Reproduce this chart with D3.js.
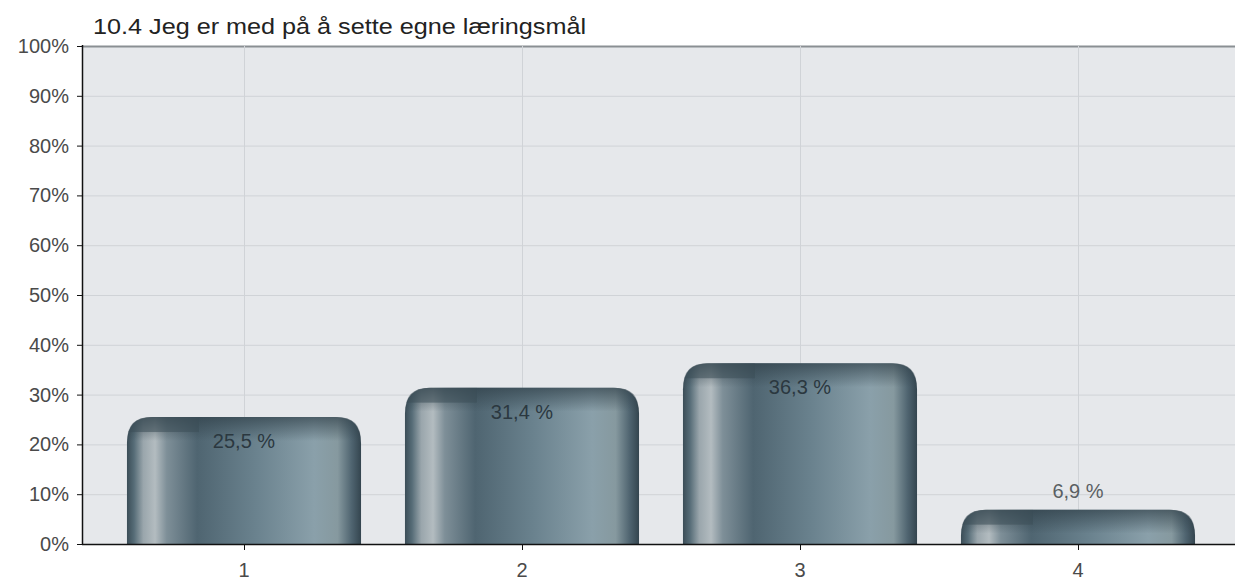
<!DOCTYPE html>
<html><head><meta charset="utf-8">
<script src="https://cdn.jsdelivr.net/npm/d3@7"></script>
<style>body{margin:0;background:#fff}svg{display:block;font-family:"Liberation Sans",Arial,sans-serif}</style>
</head><body><svg id="c" width="1235" height="581"></svg>
<script>
const title = "10.4 Jeg er med på å sette egne læringsmål";
const categories = ["1","2","3","4"];
const values = [25.5, 31.4, 36.3, 6.9];
const valueLabels = ["25,5 %","31,4 %","36,3 %","6,9 %"];
const yTicks = [0,10,20,30,40,50,60,70,80,90,100];

const svg = d3.select("#c");
const pLeft = 82, pRight = 1235, pTop = 46, pBottom = 544;
const y = d3.scaleLinear().domain([0,100]).range([pBottom, pTop]);
const x = d3.scaleBand().domain(categories).range([105, 1217]).paddingInner(0.158).paddingOuter(0.079);

const defs = svg.append("defs");
const g1 = defs.append("linearGradient").attr("id","barH").attr("x1","0").attr("x2","1").attr("y1","0").attr("y2","0");
[[0,"#3b4d57"],[0.03,"#566c77"],[0.07,"#9aa6ac"],[0.12,"#b3bcc0"],[0.17,"#7e8f98"],[0.3,"#4f6571"],[0.55,"#6a828e"],[0.8,"#8aa0aa"],[0.9,"#86999f"],[0.96,"#4f6470"],[1,"#34454f"]]
 .forEach(([o,c])=>g1.append("stop").attr("offset",o).attr("stop-color",c));
const g2 = defs.append("linearGradient").attr("id","barTop").attr("x1","0").attr("x2","0").attr("y1","0").attr("y2","1");
[[0,"#2f3f48",0.8],[1,"#2f3f48",0]].forEach(([o,c,op])=>g2.append("stop").attr("offset",o).attr("stop-color",c).attr("stop-opacity",op));

// plot background
svg.append("rect").attr("x",pLeft).attr("y",pTop).attr("width",pRight-pLeft).attr("height",pBottom-pTop).attr("fill","#e6e8eb");
// horizontal grid
svg.append("g").selectAll("line").data(yTicks.slice(1)).join("line")
  .attr("x1",pLeft).attr("x2",pRight).attr("y1",d=>y(d)+0.5).attr("y2",d=>y(d)+0.5)
  .attr("stroke",d=>d===100?"#8a8f93":"#d0d3d7").attr("stroke-width",d=>d===100?2:1);
// vertical grid
svg.append("g").selectAll("line").data(categories).join("line")
  .attr("x1",d=>Math.round(x(d)+x.bandwidth()/2)+0.5).attr("x2",d=>Math.round(x(d)+x.bandwidth()/2)+0.5)
  .attr("y1",pTop).attr("y2",pBottom).attr("stroke","#d0d3d7");

// bars
const r = 26;
function barPath(x0,w,yt,yb){
  const h = yb-yt, rr = Math.min(r, h, w/2);
  return `M${x0},${yb}V${yt+rr}Q${x0},${yt} ${x0+rr},${yt}H${x0+w-rr}Q${x0+w},${yt} ${x0+w},${yt+rr}V${yb}Z`;
}
const bars = svg.append("g").selectAll("g").data(categories).join("g");
bars.append("clipPath").attr("id",(d,i)=>"bc"+i)
  .append("path").attr("d",(d,i)=>barPath(x(d),x.bandwidth(),y(values[i]),pBottom));
bars.append("path").attr("d",(d,i)=>barPath(x(d),x.bandwidth(),y(values[i]),pBottom)).attr("fill","url(#barH)");
bars.append("path").attr("d",(d,i)=>{const yt=y(values[i]);const h=Math.min(16,(pBottom-yt)*0.5);
  return barPath(x(d),x.bandwidth(),yt,yt+h+8);}).attr("fill","url(#barTop)").attr("opacity",0.85);
// left segment of the cap sits lower
bars.append("rect").attr("clip-path",(d,i)=>`url(#bc${i})`)
  .attr("x",d=>x(d)).attr("width",72)
  .attr("y",(d,i)=>y(values[i]))
  .attr("height",(d,i)=>Math.min(15,(pBottom-y(values[i]))*0.45))
  .attr("fill","#3c4e58").attr("opacity",0.55);

// value labels
svg.append("g").selectAll("text").data(categories).join("text")
  .attr("x",d=>x(d)+x.bandwidth()/2)
  .attr("y",(d,i)=>values[i]<15? y(values[i])-12 : y(values[i])+31)
  .attr("text-anchor","middle").attr("font-size",20)
  .attr("fill",(d,i)=>values[i]<15?"#5a5f63":"#2b3840")
  .text((d,i)=>valueLabels[i]);

// axes
svg.append("line").attr("x1",pLeft+0.5).attr("x2",pLeft+0.5).attr("y1",pTop-1).attr("y2",pBottom+1).attr("stroke","#111").attr("stroke-width",1.5);
svg.append("line").attr("x1",pLeft).attr("x2",pRight).attr("y1",pBottom+0.5).attr("y2",pBottom+0.5).attr("stroke","#111").attr("stroke-width",1.5);
const ya = svg.append("g");
ya.selectAll("line").data(yTicks).join("line").attr("x1",pLeft-5).attr("x2",pLeft).attr("y1",d=>y(d)+0.5).attr("y2",d=>y(d)+0.5).attr("stroke","#111");
ya.selectAll("text").data(yTicks).join("text").attr("x",pLeft-13).attr("y",d=>y(d)+7)
  .attr("text-anchor","end").attr("font-size",20).attr("fill","#4a4a4a").text(d=>d+"%");
const xa = svg.append("g");
xa.selectAll("line").data(categories).join("line")
  .attr("x1",d=>Math.round(x(d)+x.bandwidth()/2)+0.5).attr("x2",d=>Math.round(x(d)+x.bandwidth()/2)+0.5)
  .attr("y1",pBottom).attr("y2",pBottom+6).attr("stroke","#111");
xa.selectAll("text").data(categories).join("text")
  .attr("x",d=>x(d)+x.bandwidth()/2).attr("y",577).attr("text-anchor","middle").attr("font-size",20).attr("fill","#4a4a4a").text(d=>d);

svg.append("text").attr("x",93).attr("y",34).attr("font-size",22).attr("fill","#222")
  .attr("textLength",493).attr("lengthAdjust","spacingAndGlyphs").text(title);
</script></body></html>
